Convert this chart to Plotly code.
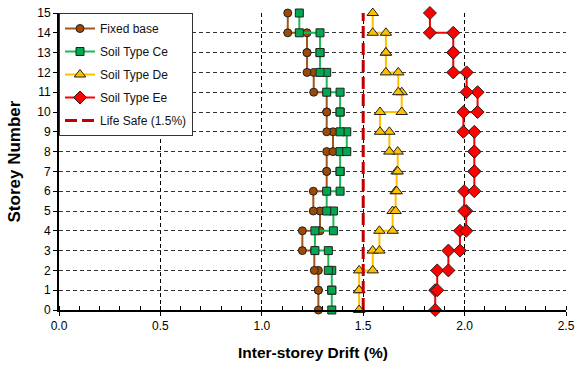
import plotly.graph_objects as go

# Inter-storey drift (%) for storeys 1..15 (bottom to top)
storeys = list(range(1, 16))
fixed_base = [1.279, 1.279, 1.259, 1.20, 1.287, 1.254, 1.32, 1.32, 1.351, 1.32, 1.32, 1.256, 1.223, 1.223, 1.128]
soil_ce = [1.345, 1.345, 1.328, 1.262, 1.353, 1.32, 1.386, 1.386, 1.419, 1.386, 1.386, 1.32, 1.287, 1.287, 1.185]
soil_de = [1.48, 1.48, 1.547, 1.58, 1.645, 1.66, 1.665, 1.67, 1.629, 1.583, 1.69, 1.673, 1.612, 1.612, 1.547]
soil_ee = [1.855, 1.865, 1.92, 1.977, 2.008, 1.998, 2.048, 2.048, 2.048, 1.994, 2.064, 2.01, 1.944, 1.944, 1.829]
life_safe = 1.5

x_ticks = [0.0, 0.5, 1.0, 1.5, 2.0, 2.5]
y_ticks = list(range(0, 16))

FONT = "Arial, Liberation Sans, sans-serif"


def step_profile(drifts):
    """Each storey's drift is held constant between its lower and upper floor."""
    xs, ys = [], []
    for s, d in zip(storeys, drifts):
        xs += [d, d]
        ys += [s - 1, s]
    return xs, ys


series = [
    ("Fixed base", fixed_base, "#A0561E", "#9C4A05", "circle", 8),
    ("Soil Type Ce", soil_ce, "#1DB954", "#00A84F", "square", 8),
    ("Soil Type De", soil_de, "#FFC000", "#FFC000", "triangle-up", 10),
    ("Soil Type Ee", soil_ee, "#FF0000", "#FF0000", "diamond", 10),
]

fig = go.Figure()

for name, vals, lc, mc, sym, ms in series:
    xs, ys = step_profile(vals)
    fig.add_trace(go.Scatter(
        x=xs, y=ys, name=name, mode="lines+markers", legendgroup=name,
        line=dict(color=lc, width=2),
        marker=dict(symbol=sym, size=ms, color=mc,
                    line=dict(color="#222222", width=1)),
        cliponaxis=False,
    ))

fig.add_trace(go.Scatter(
    x=[life_safe, life_safe], y=[y_ticks[0], y_ticks[-1]],
    name="Life Safe (1.5%)", mode="lines", legendgroup="ls",
    line=dict(color="#C00000", width=3, dash="12px,5px"),
    cliponaxis=False,
))

fig.update_layout(
    width=575, height=365,
    margin=dict(l=59, r=9, t=13, b=55),
    paper_bgcolor="white", plot_bgcolor="white",
    font=dict(family=FONT, size=12, color="#000000"),
    showlegend=True,
    legend=dict(
        x=0, y=1, xanchor="left", yanchor="top",
        bgcolor="white", bordercolor="#333333", borderwidth=1,
        font=dict(family=FONT, size=12, color="#111111"),
        tracegroupgap=4, itemwidth=30,
    ),
    annotations=[
        dict(text="<b>Inter-storey Drift (%)</b>", xref="paper", yref="paper",
             x=0.5, y=0, yshift=-42, xanchor="center", yanchor="middle",
             showarrow=False, font=dict(family=FONT, size=15.5, color="#000000")),
        dict(text="<b>Storey Number</b>", xref="paper", yref="paper",
             x=0, y=0.5, xshift=-45, xanchor="center", yanchor="middle",
             textangle=-90, showarrow=False,
             font=dict(family=FONT, size=17, color="#000000")),
    ],
)

fig.update_xaxes(
    range=[0, 2.5], tickvals=x_ticks,
    ticktext=[f"{v:.1f}" for v in x_ticks],
    automargin=False,
    showline=True, linecolor="#000000", linewidth=2,
    ticks="outside", ticklen=4, tickcolor="#000000",
    minor=dict(dtick=0.1, ticks="inside", ticklen=4, tickcolor="#000000", showgrid=False),
    showgrid=True, gridcolor="#000000", gridwidth=1, griddash="4px,3px",
    zeroline=False,
    tickfont=dict(family=FONT, size=12),
)

fig.update_yaxes(
    range=[0, 15], tickvals=y_ticks,
    automargin=False,
    showline=True, linecolor="#000000", linewidth=2,
    ticks="outside", ticklen=4, tickcolor="#000000",
    showgrid=True, gridcolor="#333333", gridwidth=1, griddash="4px,3px",
    zeroline=False,
    tickfont=dict(family=FONT, size=12),
)

fig.write_html("out.html")
